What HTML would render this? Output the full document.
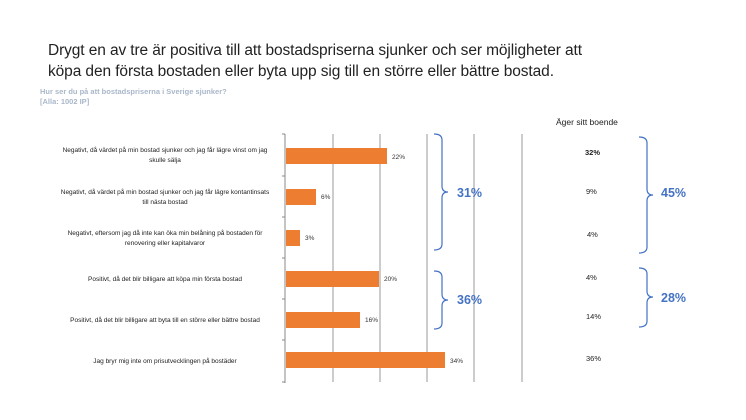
<!DOCTYPE html>
<html><head><meta charset="utf-8"><style>
body{margin:0;background:#fff;width:746px;height:420px;overflow:hidden}
svg{display:block;font-family:"Liberation Sans",sans-serif}
</style></head><body>
<svg width="746" height="420" viewBox="0 0 746 420">
<text x="48" y="55" font-size="15.5" fill="#222" textLength="534">Drygt en av tre är positiva till att bostadspriserna sjunker och ser möjligheter att</text>
<text x="48" y="76" font-size="15.5" fill="#222" textLength="506">köpa den första bostaden eller byta upp sig till en större eller bättre bostad.</text>
<text x="40" y="94" font-size="7.5" font-weight="bold" fill="#a9b7c9">Hur ser du på att bostadspriserna i Sverige sjunker?</text>
<text x="40" y="104" font-size="7.5" font-weight="bold" fill="#a9b7c9">[Alla: 1002 IP]</text>
<g stroke="#bbb" stroke-width="1.5">
<line x1="333" y1="134" x2="333" y2="382"/><line x1="380" y1="134" x2="380" y2="382"/><line x1="427" y1="134" x2="427" y2="382"/><line x1="474" y1="134" x2="474" y2="382"/><line x1="522" y1="134" x2="522" y2="382"/>
</g>
<g stroke="#888" stroke-width="1">
<line x1="285" y1="134" x2="285" y2="383"/>
<line x1="282" y1="134" x2="285" y2="134"/><line x1="282" y1="176" x2="285" y2="176"/><line x1="282" y1="217" x2="285" y2="217"/><line x1="282" y1="258" x2="285" y2="258"/><line x1="282" y1="299" x2="285" y2="299"/><line x1="282" y1="340" x2="285" y2="340"/><line x1="282" y1="382" x2="285" y2="382"/>
</g>
<g fill="#ed7d31">
<rect x="286" y="148" width="101" height="16"/>
<rect x="286" y="189" width="30" height="16"/>
<rect x="286" y="230" width="14" height="16"/>
<rect x="286" y="271" width="93" height="16"/>
<rect x="286" y="312" width="74" height="16"/>
<rect x="286" y="352" width="159" height="16"/>
</g>
<g font-size="6.5" fill="#333">
<text x="392" y="159">22%</text><text x="321" y="199">6%</text><text x="305" y="240">3%</text>
<text x="384" y="281">20%</text><text x="365" y="322">16%</text><text x="450" y="363">34%</text>
</g>
<g font-size="6.5" fill="#222" text-anchor="middle">
<text x="165" y="152">Negativt, då värdet på min bostad sjunker och jag får lägre vinst om jag</text>
<text x="165" y="162">skulle sälja</text>
<text x="165" y="194">Negativt, då värdet på min bostad sjunker och jag får lägre kontantinsats</text>
<text x="165" y="204">till nästa bostad</text>
<text x="165" y="235">Negativt, eftersom jag då inte kan öka min belåning på bostaden för</text>
<text x="165" y="245">renovering eller kapitalvaror</text>
<text x="165" y="281">Positivt, då det blir billigare att köpa min första bostad</text>
<text x="165" y="322">Positivt, då det blir billigare att byta till en större eller bättre bostad</text>
<text x="165" y="363">Jag bryr mig inte om prisutvecklingen på bostäder</text>
</g>
<g fill="none" stroke="#4472c4" stroke-width="1.2">
<path d="M434 134 Q442 134 442 140 L442 186 Q442 192 448 192 Q442 192 442 198 L442 244 Q442 250 434 250"/>
<path d="M434 271 Q442 271 442 277 L442 294 Q442 300 448 300 Q442 300 442 306 L442 323 Q442 329 434 329"/>
<path d="M639 137 Q647 137 647 143 L647 189 Q647 195 653 195 Q647 195 647 201 L647 247 Q647 253 639 253"/>
<path d="M639 268 Q647 268 647 274 L647 291 Q647 297 653 297 Q647 297 647 303 L647 321 Q647 327 639 327"/>
</g>
<g font-size="12.5" font-weight="bold" fill="#4472c4">
<text x="457" y="197">31%</text><text x="457" y="304">36%</text>
<text x="661" y="197">45%</text><text x="661" y="302">28%</text>
</g>
<text x="556" y="125" font-size="8.5" fill="#222">Äger sitt boende</text>
<g font-size="7.5" fill="#222">
<text x="585" y="155" font-weight="bold">32%</text><text x="586" y="194">9%</text><text x="587" y="237">4%</text>
<text x="586" y="280">4%</text><text x="586" y="319">14%</text><text x="586" y="361">36%</text>
</g>
</svg>
</body></html>
